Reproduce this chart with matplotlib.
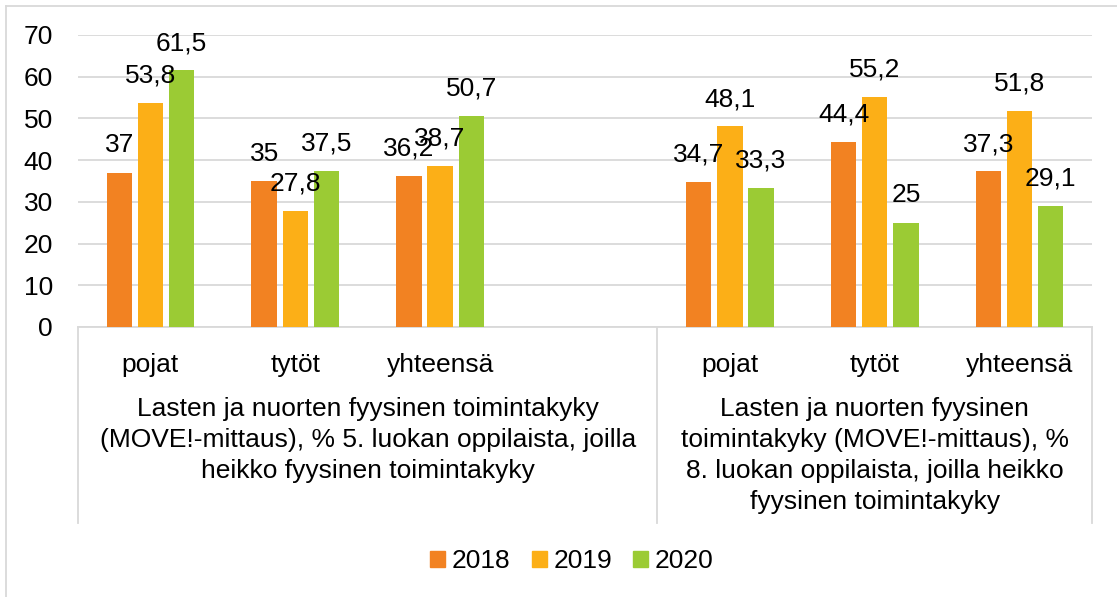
import numpy as np
import matplotlib.pyplot as plt
from matplotlib.patches import Patch
from matplotlib.lines import Line2D

plt.rcParams['font.family'] = ['Liberation Sans', 'DejaVu Sans']

categories = ['pojat', 'tytöt', 'yhteensä', '', 'pojat', 'tytöt', 'yhteensä']
years = ['2018', '2019', '2020']
v2018 = [37, 35, 36.2, np.nan, 34.7, 44.4, 37.3]
v2019 = [53.8, 27.8, 38.7, np.nan, 48.1, 55.2, 51.8]
v2020 = [61.5, 37.5, 50.7, np.nan, 33.3, 25, 29.1]
groups = ['Lasten ja nuorten fyysinen toimintakyky\n(MOVE!-mittaus), % 5. luokan oppilaista, joilla\nheikko fyysinen toimintakyky',
          'Lasten ja nuorten fyysinen\ntoimintakyky (MOVE!-mittaus), %\n8. luokan oppilaista, joilla heikko\nfyysinen toimintakyky']
group_span = [(-0.5, 3.5), (3.5, 6.5)]
colors = ['#F28222', '#FCAF17', '#9BCB34']
grid_c = '#D9D9D9'
fs = 19

fig = plt.figure(figsize=(11.17, 5.97), dpi=100)
ax = fig.add_axes([78/1117, 1-327/597, (1092-78)/1117, 292/597])

x = np.arange(len(categories))
w = 0.175
for i, (vals, c) in enumerate(zip([v2018, v2019, v2020], colors)):
    bars = ax.bar(x + (i-1)*0.215, vals, w, color=c, zorder=3)
    labs = ['' if np.isnan(v) else f'{v:g}'.replace('.', ',') for v in vals]
    ax.bar_label(bars, labels=labs, padding=11, fontsize=fs, zorder=4)

ax.set_xlim(-0.5, 6.5)
ax.set_ylim(0, 70)
ax.set_yticks(range(0, 71, 10))
ax.tick_params(axis='y', length=0, pad=18, labelsize=fs)
ax.grid(axis='y', color=grid_c, lw=1.3, zorder=0)
ax.set_xticks(x)
ax.set_xticklabels(categories, fontsize=fs)
ax.tick_params(axis='x', length=0, pad=19)
for s in ['top', 'right', 'left']:
    ax.spines[s].set_visible(False)
ax.spines['bottom'].set_color(grid_c)
ax.spines['bottom'].set_linewidth(1.3)

trans = ax.get_xaxis_transform()
for xs in [-0.5, 3.5, 6.5]:
    ax.add_line(Line2D([xs, xs], [0, -0.671], transform=trans, color=grid_c, lw=1.3, clip_on=False))
for (a, b), g in zip(group_span, groups):
    ax.text((a+b)/2, -0.24, g, transform=trans, ha='center', va='top', fontsize=fs, linespacing=1.37)

# outer chart border
fig.add_artist(Line2D([6/1117, 6/1117], [0, 1-6/597], transform=fig.transFigure, color=grid_c, lw=1.3))
fig.add_artist(Line2D([6/1117, 1], [1-6/597, 1-6/597], transform=fig.transFigure, color=grid_c, lw=1.3))

handles = [Patch(color=c) for c in colors]
fig.legend(handles, years, loc='center', bbox_to_anchor=(572/1117, 1-561/597), ncol=3, frameon=False,
           fontsize=fs, handlelength=0.57, handleheight=0.57, handletextpad=0.25, columnspacing=0.8)

fig.savefig('out.png', dpi=100)
